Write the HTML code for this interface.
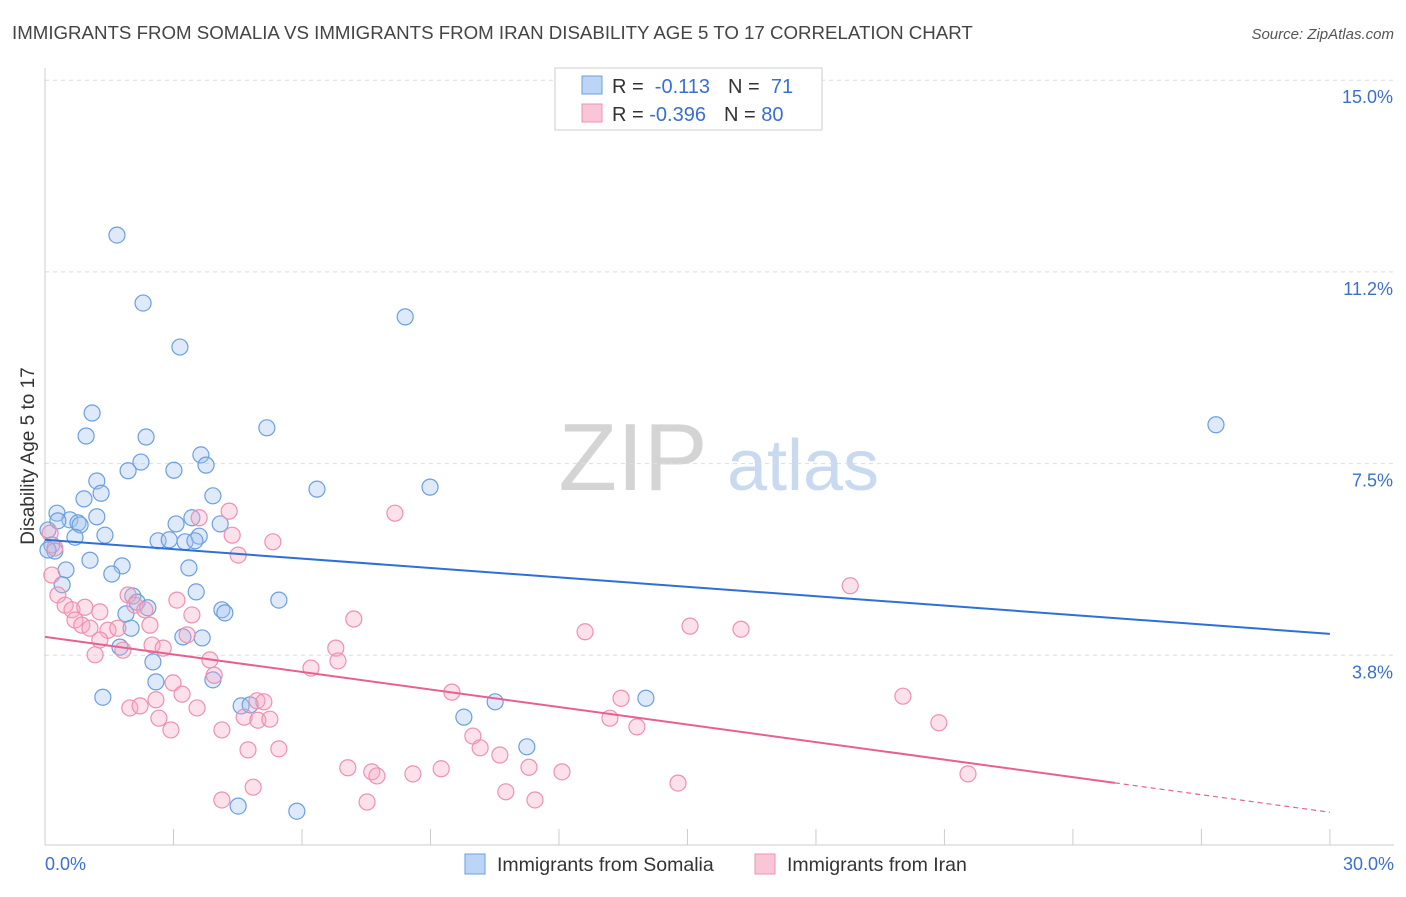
<!DOCTYPE html>
<html><head><meta charset="utf-8"><style>
body{margin:0;background:#fff;font-family:"Liberation Sans",sans-serif}
svg text{font-family:"Liberation Sans",sans-serif}
</style></head><body>
<svg id="chart" width="1406" height="892" xmlns="http://www.w3.org/2000/svg">
<text x="12" y="39" font-size="18.7" fill="#444">IMMIGRANTS FROM SOMALIA VS IMMIGRANTS FROM IRAN DISABILITY AGE 5 TO 17 CORRELATION CHART</text>
<text x="1394" y="39" font-size="15" fill="#555" text-anchor="end" font-style="italic">Source: ZipAtlas.com</text>
<g>
<text x="633" y="490" font-size="96" fill="#d4d4d4" text-anchor="middle" font-family="Liberation Serif,serif">ZIP</text>
<text x="803" y="490" font-size="72" fill="#c8d9f0" text-anchor="middle">atlas</text>
</g>
<g id="grid"></g>
<g id="axes"></g>
<g id="marks"></g>
<g>
<rect x="555" y="68" width="267" height="62" fill="#fff" stroke="#ccc"/>
<rect x="582" y="76" width="20" height="18" fill="#bcd4f5" stroke="#6a9fe0"/>
<rect x="582" y="104" width="20" height="18" fill="#f9c6d6" stroke="#ee90b0"/>
<text x="612" y="93" font-size="20" fill="#333">R = <tspan fill="#3a6fd0">&#160;-0.113</tspan><tspan dx="18" fill="#333">N = </tspan><tspan fill="#3a6fd0">&#160;71</tspan></text>
<text x="612" y="121" font-size="20" fill="#333">R = <tspan fill="#3a6fd0">-0.396</tspan><tspan dx="18" fill="#333">N = </tspan><tspan fill="#3a6fd0">80</tspan></text>
</g>
<g>
<rect x="465" y="854" width="20" height="20" fill="#bcd4f5" stroke="#6a9fe0"/>
<text x="497" y="871" font-size="19.5" fill="#333">Immigrants from Somalia</text>
<rect x="755" y="854" width="20" height="20" fill="#f9c6d6" stroke="#ee90b0"/>
<text x="787" y="871" font-size="19.5" fill="#333">Immigrants from Iran</text>
</g>
<text transform="translate(34,456) rotate(-90)" font-size="19" fill="#333" text-anchor="middle">Disability Age 5 to 17</text>
</svg>
<script>
const yTicks=[3.75,7.5,11.25,15];
const yTickLabels=["3.8%","7.5%","11.2%","15.0%"];
const xTickLabels=["0.0%","30.0%"];
const somaliaX=[1.68,2.29,3.15,8.41,1.10,0.96,2.36,5.18,27.34,3.64,3.76,2.24,1.94,3.01,1.21,8.99,6.35,0.91,1.31,3.92,0.28,1.21,0.58,0.77,0.82,3.43,3.06,4.09,0.07,0.70,1.40,0.16,2.64,2.90,3.27,3.60,3.50,0.23,1.05,0.49,1.80,1.56,3.36,0.40,2.05,2.15,3.53,5.46,2.40,1.89,4.13,4.20,2.01,3.22,3.67,1.75,2.52,2.59,3.92,1.35,4.58,4.79,14.03,10.51,9.78,11.25,4.51,5.88,0.07,0.30];
const somaliaY=[11.97,10.64,9.78,10.37,8.49,8.04,8.02,8.20,8.26,7.67,7.47,7.53,7.36,7.37,7.16,7.04,7.00,6.81,6.92,6.87,6.53,6.46,6.40,6.34,6.30,6.44,6.32,6.32,6.20,6.06,6.10,5.91,5.99,6.01,5.97,6.08,5.99,5.79,5.61,5.42,5.50,5.34,5.46,5.13,4.91,4.79,4.99,4.83,4.68,4.56,4.64,4.58,4.28,4.11,4.09,3.91,3.62,3.23,3.27,2.93,2.76,2.78,2.91,2.84,2.54,1.96,0.80,0.70,5.81,6.38];
const iranX=[0.12,0.23,0.16,0.30,0.47,0.63,0.93,0.70,0.86,1.05,1.28,1.47,1.70,1.94,2.10,2.33,2.45,1.17,1.28,1.82,2.50,2.76,3.08,3.32,3.43,3.60,4.30,4.37,5.32,4.51,8.17,18.80,12.61,15.06,16.25,7.21,6.79,6.84,6.21,3.85,3.95,2.99,3.20,1.98,2.22,2.59,3.55,2.66,2.94,4.13,4.95,5.11,4.65,4.97,5.25,4.74,5.46,9.50,9.99,10.16,10.62,7.07,7.63,7.75,8.59,9.25,11.30,12.07,13.45,13.19,13.82,20.03,20.87,21.55,14.78,4.86,4.13,7.52,10.76,11.44];
const iranY=[6.14,5.85,5.32,4.93,4.73,4.64,4.69,4.44,4.34,4.28,4.60,4.24,4.28,4.93,4.73,4.64,4.34,3.76,4.05,3.85,3.95,3.89,4.83,4.15,4.54,6.44,6.57,6.10,5.97,5.71,6.53,5.11,4.21,4.32,4.26,4.46,3.89,3.64,3.50,3.66,3.36,3.21,2.99,2.72,2.76,2.88,2.72,2.52,2.29,2.29,2.86,2.84,2.54,2.48,2.50,1.90,1.92,3.03,2.17,1.94,1.80,1.55,1.47,1.39,1.43,1.53,1.56,1.47,2.91,2.52,2.35,2.95,2.43,1.43,1.25,1.17,0.92,0.88,1.08,0.92];
const somaliaTrend=[6.01,4.17];
const iranTrend=[4.11,0.68];
const iranSolidEnd=[24.98];
const NS="http://www.w3.org/2000/svg";
const X=v=>45+v*42.83, Y=v=>847-v*51.12;
function mk(t,a,p){const e=document.createElementNS(NS,t);for(const k in a)e.setAttribute(k,a[k]);p.appendChild(e);return e;}
const grid=document.getElementById('grid'),axes=document.getElementById('axes'),marks=document.getElementById('marks');
yTicks.forEach((t,i)=>{
 const l=mk('line',{x1:45,x2:1394,y1:Y(t),y2:Y(t),stroke:'#ddd','stroke-dasharray':'4,4'},grid);
 
 
 const tx=mk('text',{x:1393,y:Y(t)+23,'font-size':18,fill:'#3a6fd0','text-anchor':'end'},axes);
 tx.textContent=yTickLabels[i];
 
 
});
mk('line',{x1:45,x2:45,y1:68,y2:845,stroke:'#ccc'},axes);
mk('line',{x1:45,x2:1394,y1:845,y2:845,stroke:'#ccc'},axes);
for(let i=0;i<=10;i++){const t=mk('line',{x1:X(i*3),x2:X(i*3),y1:845,y2:829,stroke:'#ccc'},axes);
 
 }
[[0,45,'start'],[30,1394,'end']].forEach((d,i)=>{const t=mk('text',{x:d[1],y:870,'font-size':18,fill:'#3a6fd0','text-anchor':d[2]},axes);t.textContent=xTickLabels[i];
 
 });
function pts(xs,ys,fill,stroke,name){xs.forEach((x,i)=>{const c=mk('circle',{cx:X(x),cy:Y(ys[i]),r:8,fill:fill,stroke:stroke,'stroke-width':1.2},marks);
 
 });}
pts(somaliaX,somaliaY,'rgba(160,196,240,0.35)','#6a9fe0','somalia-point');
pts(iranX,iranY,'rgba(245,170,195,0.35)','#ee90b0','iran-point');
const bl=mk('line',{x1:X(0),y1:Y(somaliaTrend[0]),x2:X(30),y2:Y(somaliaTrend[1]),stroke:'#2f6fd6','stroke-width':2},marks);


const iy=x=>iranTrend[0]+(iranTrend[1]-iranTrend[0])*x/30;
const pl=mk('line',{x1:X(0),y1:Y(iranTrend[0]),x2:X(iranSolidEnd[0]),y2:Y(iy(iranSolidEnd[0])),stroke:'#e8608f','stroke-width':2},marks);


const pd=mk('line',{x1:X(iranSolidEnd[0]),y1:Y(iy(iranSolidEnd[0])),x2:X(30),y2:Y(iranTrend[1]),stroke:'#e8608f','stroke-width':1.2,'stroke-dasharray':'5,4'},marks);


</script>
</body></html>
